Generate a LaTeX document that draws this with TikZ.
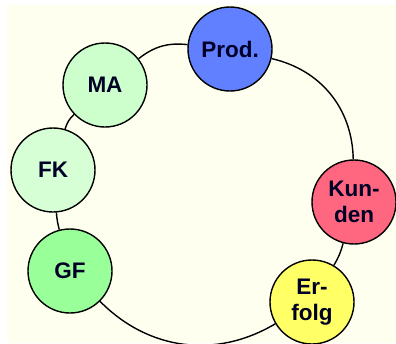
\documentclass[tikz,border=0pt]{standalone}
\usepackage{fontspec}
\setmainfont{Liberation Sans}
\definecolor{bgivory}{RGB}{255,255,240}
\definecolor{prodblue}{RGB}{96,128,255}
\definecolor{paleg}{RGB}{204,255,204}
\definecolor{paleg2}{RGB}{214,255,214}
\definecolor{gfgreen}{RGB}{153,255,153}
\definecolor{kunred}{RGB}{255,102,128}
\definecolor{erfyel}{RGB}{255,255,102}
\tikzset{
  bubble/.style={circle, draw=black, line width=1.4pt, minimum size=84pt, inner sep=0pt,
    font=\fontsize{22.5}{26}\selectfont\bfseries, align=center, text=black!85!blue},
  ring/.style={draw=black, line width=1.4pt}
}
\begin{document}
\begin{tikzpicture}[x=1pt,y=-1pt]
\useasboundingbox (0,0) rectangle (396,343);
\fill[bgivory] (7,5) rectangle (396,343);
\begin{scope}
\clip (0,0) rectangle (396,343);
\node[bubble, fill=prodblue] (prod) at (230,49) {Prod.};
\node[bubble, fill=paleg] (ma) at (105,85) {MA};
\node[bubble, fill=paleg2] (fk) at (53,170) {FK};
\node[bubble, fill=gfgreen] (gf) at (70,271) {GF};
\node[bubble, fill=kunred] (kun) at (354,202) {Kun-\\den};
\node[bubble, fill=erfyel] (erf) at (312,302) {Er-\\folg};
\draw[ring] (prod) to[bend left=38] (kun);
\draw[ring] (kun) to[bend left=8] (erf);
\draw[ring] (erf) to[bend left=38] (gf);
\draw[ring] (gf) to[bend left=5] (fk);
\draw[ring] (fk) to[bend left=15] (ma);
\draw[ring] (ma) to[bend left=22] (prod);
\end{scope}
\end{tikzpicture}
\end{document}
